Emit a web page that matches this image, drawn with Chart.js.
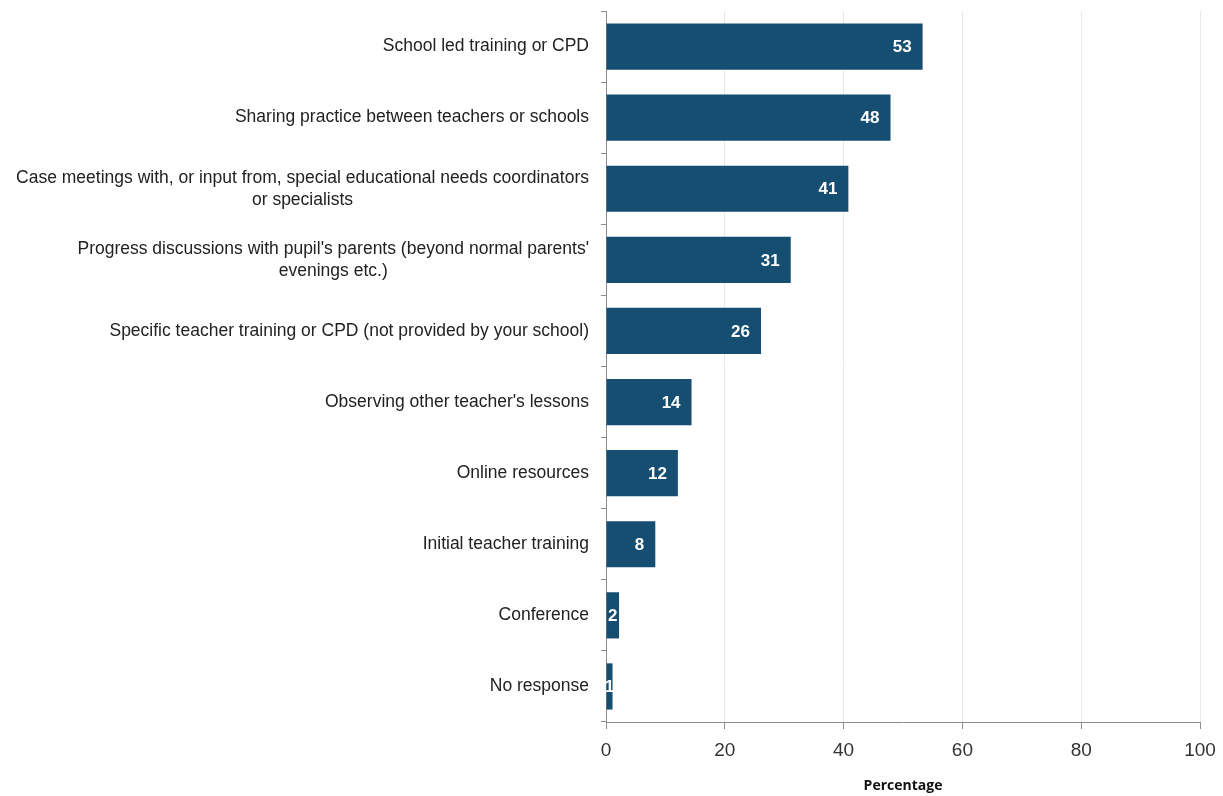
<!DOCTYPE html>
<html>
<head>
<meta charset="utf-8">
<script src="https://cdn.jsdelivr.net/npm/chart.js@4.4.1/dist/chart.umd.min.js"></script>
<style>
  html, body { margin: 0; padding: 0; background: #fff; }
  #wrap { width: 1223px; height: 796px; }
</style>
</head>
<body>
<div id="wrap"><canvas id="chart" width="1223" height="796"></canvas></div>
<script>
// categorias (de cima para baixo)
const categories = [
    'School led training or CPD',
    'Sharing practice between teachers or schools',
    ['Case meetings with, or input from, special educational needs coordinators', 'or specialists'],
    ['Progress discussions with pupil\'s parents (beyond normal parents\'', 'evenings etc.)'],
    'Specific teacher training or CPD (not provided by your school)',
    'Observing other teacher\'s lessons',
    'Online resources',
    'Initial teacher training',
    'Conference',
    'No response'
];
// percentagens
const percentages = [53.3, 47.9, 40.8, 31.1, 26.1, 14.4, 12.1, 8.3, 2.2, 1.1];
const xTicks = [0, 20, 40, 60, 80, 100];

const BAR_COLOR = '#164E72';
const LABEL_FONT = "'Liberation Sans', Arial, sans-serif";
const CAT_SIZE = 17.5;
const CAT_LINE = 22;

// valores dentro das barras
const valueLabels = {
    id: 'valueLabels',
    afterDatasetsDraw(chart) {
        const ctx = chart.ctx;
        const meta = chart.getDatasetMeta(0);
        ctx.save();
        ctx.fillStyle = '#fff';
        ctx.font = "bold 17px " + LABEL_FONT;
        ctx.textBaseline = 'middle';
        meta.data.forEach(function(bar, i) {
            const txt = String(Math.round(percentages[i]));
            const w = ctx.measureText(txt).width;
            const barW = bar.x - bar.base;
            if (barW > w + 22) {
                ctx.textAlign = 'right';
                ctx.fillText(txt, bar.x - 11, bar.y + 1);
            } else {
                ctx.textAlign = 'center';
                ctx.fillText(txt, bar.base + barW / 2, bar.y + 1);
            }
        });
        ctx.restore();
    }
};

// rótulos das categorias: bloco alinhado à direita, linhas centradas no bloco
const categoryLabels = {
    id: 'categoryLabels',
    afterDraw(chart) {
        const ctx = chart.ctx;
        const yScale = chart.scales.y;
        const right = chart.chartArea.left - 17;
        ctx.save();
        ctx.fillStyle = '#222';
        ctx.font = CAT_SIZE + "px " + LABEL_FONT;
        ctx.textBaseline = 'middle';
        ctx.textAlign = 'center';
        categories.forEach(function(label, i) {
            const lines = Array.isArray(label) ? label : [label];
            const blockW = Math.max.apply(null, lines.map(l => ctx.measureText(l).width));
            const cx = right - blockW / 2;
            const cy = yScale.getPixelForValue(i);
            const y0 = cy - (lines.length - 1) * CAT_LINE / 2;
            lines.forEach(function(l, j) {
                ctx.fillText(l, cx, y0 + j * CAT_LINE);
            });
        });
        ctx.restore();
    }
};

new Chart(document.getElementById('chart'), {
    type: 'bar',
    data: {
        labels: categories,
        datasets: [{
            data: percentages,
            backgroundColor: BAR_COLOR,
            categoryPercentage: 1,
            barPercentage: 0.65
        }]
    },
    options: {
        indexAxis: 'y',
        responsive: false,
        animation: false,
        layout: { padding: { top: 11, right: 23, left: 8, bottom: 2 } },
        plugins: {
            legend: { display: false },
            tooltip: { enabled: false }
        },
        scales: {
            x: {
                min: 0,
                max: 100,
                afterBuildTicks(scale) {
                    scale.ticks = xTicks.map(v => ({ value: v }));
                },
                grid: { color: '#e8e8e8', tickColor: '#8c8c8c', tickLength: 7 },
                border: { color: '#8c8c8c' },
                ticks: {
                    color: '#333',
                    padding: 10,
                    maxRotation: 0,
                    font: { family: LABEL_FONT, size: 19 }
                },
                title: {
                    display: true,
                    text: 'Percentage',
                    color: '#111',
                    padding: { top: 12, bottom: 0 },
                    font: { family: "'Open Sans', sans-serif", size: 14, weight: 'bold' }
                },
                afterFit(scale) {
                    scale.height = 72;
                    scale.paddingLeft = 0;
                    scale.paddingRight = 0;
                }
            },
            y: {
                grid: { drawOnChartArea: false, tickColor: '#8c8c8c', tickLength: 5 },
                border: { color: '#8c8c8c' },
                ticks: {
                    color: 'rgba(0,0,0,0)',
                    padding: 12,
                    font: { family: LABEL_FONT, size: CAT_SIZE, lineHeight: 1.25 }
                },
                afterFit(scale) {
                    scale.width = 598;
                    scale.paddingTop = 0;
                    scale.paddingBottom = 0;
                }
            }
        }
    },
    plugins: [valueLabels, categoryLabels]
});
</script>
</body>
</html>
